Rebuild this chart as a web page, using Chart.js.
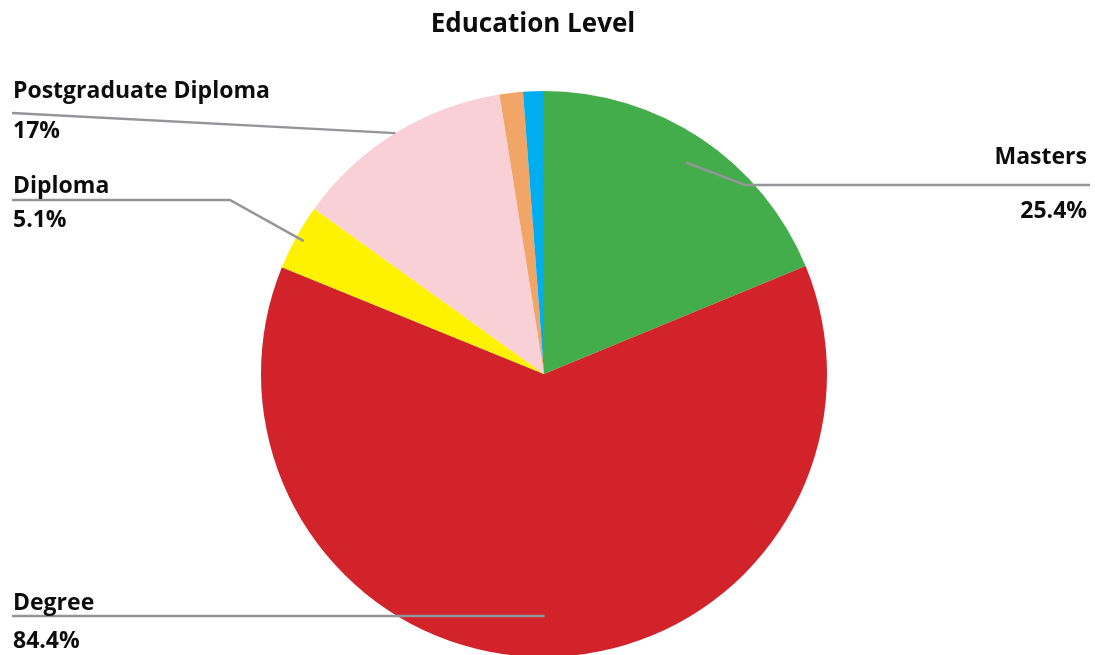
<!DOCTYPE html>
<html>
<head>
<meta charset="utf-8">
<script src="https://cdn.jsdelivr.net/npm/chart.js@4.4.0/dist/chart.umd.min.js"></script>
<style>
  html, body { margin: 0; padding: 0; background: #fff; overflow: hidden; }
  #wrap { width: 1095px; height: 655px; overflow: hidden; }
</style>
</head>
<body>
<div id="wrap"><canvas id="eduChart" width="1095" height="700"></canvas></div>
<script>
// Education level shares (%)
const levels = ['Masters', 'Degree', 'Diploma', 'Postgraduate Diploma', 'Certificate', 'PhD'];
const shares = [25.4, 84.4, 5.1, 17, 1.8, 1.6];
const sliceColors = ['#43ad4b', '#d2232a', '#fff200', '#f9d0d6', '#f1a566', '#00aeef'];

// callout layout: text baselines, leader line and where it touches the slice
const callouts = {
  'Masters':              { align: 'right', x: 1087, nameY: 164, lineY: 185, valueY: 218, lineFrom: 1090, elbowX: 745, r: 0.9 },
  'Degree':               { align: 'left',  x: 13,   nameY: 610, lineY: 616, valueY: 648, lineFrom: 12,   elbowX: null, r: 0.855 },
  'Diploma':              { align: 'left',  x: 13,   nameY: 193, lineY: 200, valueY: 227, lineFrom: 12,   elbowX: 230, r: 0.97 },
  'Postgraduate Diploma': { align: 'left',  x: 13,   nameY: 98,  lineY: 113, valueY: 138, lineFrom: 12,   elbowX: null, r: 1.0 }
};

const labelFont = '700 23px "Open Sans", sans-serif';

const calloutPlugin = {
  id: 'callouts',
  afterDraw(chart) {
    const ctx = chart.ctx;
    const meta = chart.getDatasetMeta(0);
    ctx.save();

    // title
    ctx.fillStyle = '#0d0d0d';
    ctx.font = '700 26px "Open Sans", sans-serif';
    ctx.textAlign = 'center';
    ctx.textBaseline = 'alphabetic';
    ctx.fillText('Education Level', 533, 32);

    levels.forEach((name, i) => {
      const c = callouts[name];
      if (!c) return;
      const arc = meta.data[i];
      const mid = (arc.startAngle + arc.endAngle) / 2;
      const ax = arc.x + Math.cos(mid) * arc.outerRadius * c.r;
      const ay = arc.y + Math.sin(mid) * arc.outerRadius * c.r;

      // leader line
      ctx.strokeStyle = '#939598';
      ctx.lineWidth = 2.5;
      ctx.beginPath();
      ctx.moveTo(c.lineFrom, c.lineY);
      if (c.elbowX !== null) {
        ctx.lineTo(c.elbowX, c.lineY);
        ctx.lineTo(ax, ay);
      } else if (name === 'Degree') {
        ctx.lineTo(ax, c.lineY);
      } else {
        ctx.lineTo(ax, ay);
      }
      ctx.stroke();

      // name and value
      ctx.fillStyle = '#0d0d0d';
      ctx.font = labelFont;
      ctx.textAlign = c.align;
      ctx.fillText(name, c.x, c.nameY);
      ctx.fillText(shares[i] + '%', c.x, c.valueY);
    });
    ctx.restore();
  }
};

new Chart(document.getElementById('eduChart'), {
  type: 'pie',
  data: {
    labels: levels,
    datasets: [{
      data: shares,
      backgroundColor: sliceColors,
      borderWidth: 0
    }]
  },
  options: {
    responsive: false,
    animation: false,
    layout: { padding: { top: 91, bottom: 43, left: 0, right: 7 } },
    plugins: {
      legend: { display: false },
      tooltip: { enabled: false },
      title: { display: false }
    }
  },
  plugins: [calloutPlugin]
});
</script>
</body>
</html>
